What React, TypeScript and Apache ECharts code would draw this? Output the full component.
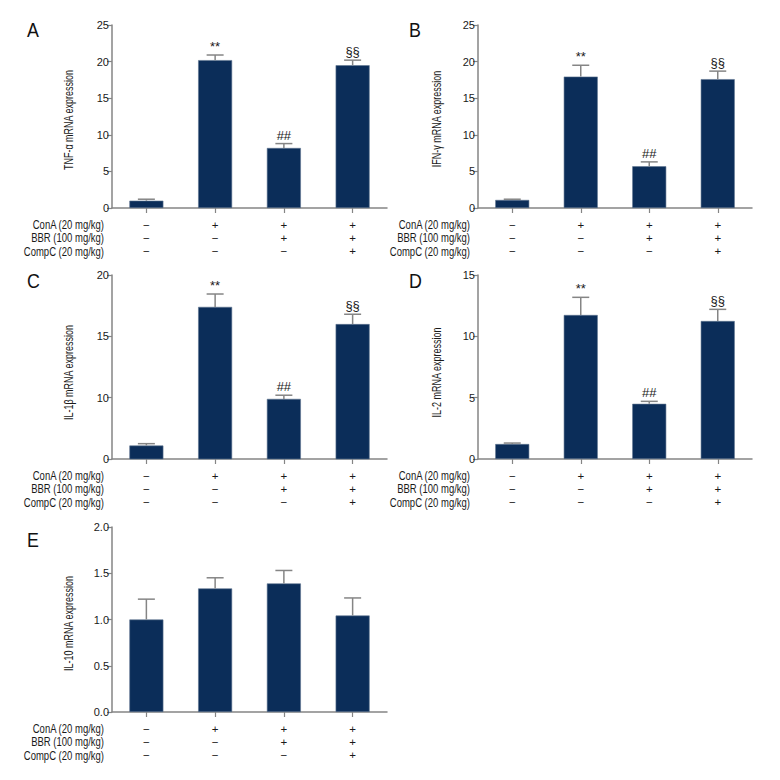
import React, { useEffect, useRef } from "react";
import * as echarts from "echarts";

const groups = ["G1", "G2", "G3", "G4"];
const conA = ["−", "+", "+", "+"];
const bbr = ["−", "−", "+", "+"];
const compC = ["−", "−", "−", "+"];
const rowNames = ["ConA (20 mg/kg)", "BBR (100 mg/kg)", "CompC (20 mg/kg)"];
const sigMarks = ["", "**", "##", "§§"];
const noMarks = ["", "", "", ""];

const tnfMean = [1.0, 20.2, 8.2, 19.5];
const tnfSem = [0.2, 0.7, 0.6, 0.7];
const ifnMean = [1.1, 17.95, 5.7, 17.6];
const ifnSem = [0.1, 1.55, 0.6, 1.1];
// IL-1β panel: axis labelled 0,10,15,20 at equal spacing (bottom tick labelled "0" sits at 5)
const il1Mean = [6.1, 17.4, 9.9, 16.0];
const il1Sem = [0.15, 1.05, 0.3, 0.8];
const il2Mean = [1.22, 11.74, 4.5, 11.25];
const il2Sem = [0.08, 1.44, 0.2, 0.95];
const il10Mean = [1.0, 1.336, 1.39, 1.043];
const il10Sem = [0.22, 0.115, 0.14, 0.19];

const FONT = '"Liberation Sans", Arial, sans-serif';
const AXIS = "#858585";
const BAR = "#0b2d59";
const TXT = "#1a1a1a";

const panels = [
  { letter: "A", title: "TNF-α mRNA expression", mean: tnfMean, sem: tnfSem, marks: sigMarks, min: 0, max: 25, interval: 5, dec: 0,
    grid: { left: 112, top: 25, width: 275, height: 183 }, titleX: 68, titleY: 120, letterPos: [27, 19] },
  { letter: "B", title: "IFN-γ mRNA expression", mean: ifnMean, sem: ifnSem, marks: sigMarks, min: 0, max: 25, interval: 5, dec: 0,
    grid: { left: 478, top: 25, width: 274, height: 183 }, titleX: 436.5, titleY: 119, letterPos: [409, 19] },
  { letter: "C", title: "IL-1β mRNA expression", mean: il1Mean, sem: il1Sem, marks: sigMarks, min: 5, max: 20, interval: 5, dec: 0,
    grid: { left: 112, top: 275, width: 275, height: 184 }, titleX: 68, titleY: 372.5, letterPos: [27, 270], zeroAt: 5 },
  { letter: "D", title: "IL-2 mRNA expression", mean: il2Mean, sem: il2Sem, marks: sigMarks, min: 0, max: 15, interval: 5, dec: 0,
    grid: { left: 478, top: 275, width: 274, height: 184 }, titleX: 436.5, titleY: 372.5, letterPos: [409, 270] },
  { letter: "E", title: "IL-10 mRNA expression", mean: il10Mean, sem: il10Sem, marks: noMarks, min: 0, max: 2, interval: 0.5, dec: 1,
    grid: { left: 112, top: 527, width: 275, height: 185 }, titleX: 68, titleY: 623.5, letterPos: [27, 529] },
];

export default function App() {
  const ref = useRef<HTMLDivElement>(null);
  useEffect(() => {
    if (!ref.current) return;
    const chart = echarts.init(ref.current, null, { renderer: "svg" });
    const grid: any[] = [];
    const xAxis: any[] = [];
    const yAxis: any[] = [];
    const series: any[] = [];
    const graphic: any[] = [];

    panels.forEach((p, i) => {
      grid.push({ ...p.grid, containLabel: false });
      xAxis.push({
        type: "category",
        gridIndex: i,
        data: groups,
        axisLine: { lineStyle: { color: AXIS, width: 1.5 } },
        axisTick: { show: true, alignWithLabel: true, length: 5, lineStyle: { color: AXIS, width: 1.2 } },
        axisLabel: {
          margin: 10,
          fontFamily: FONT,
          fontSize: 11.5,
          lineHeight: 13.2,
          color: TXT,
          formatter: (_v: string, idx: number) => `${conA[idx]}\n${bbr[idx]}\n${compC[idx]}`,
        },
      });
      yAxis.push({
        type: "value",
        gridIndex: i,
        min: p.min,
        max: p.max,
        interval: p.interval,
        splitLine: { show: false },
        axisLine: { show: true, lineStyle: { color: AXIS, width: 1.5 } },
        axisTick: { show: true, length: 5, lineStyle: { color: AXIS, width: 1.2 } },
        axisLabel: {
          margin: 3,
          fontFamily: FONT,
          fontSize: 11,
          color: TXT,
          formatter: (v: number) => {
            if ((p as any).zeroAt !== undefined && v === (p as any).zeroAt) return "0";
            return v.toFixed(p.dec);
          },
        },
      });
      series.push({
        type: "bar",
        xAxisIndex: i,
        yAxisIndex: i,
        data: p.mean,
        barWidth: 34,
        clip: true,
        itemStyle: { color: BAR, borderColor: "#5f7590", borderWidth: 0.6 },
        z: 2,
      });
      const marks = p.marks;
      series.push({
        type: "custom",
        xAxisIndex: i,
        yAxisIndex: i,
        z: 3,
        clip: false,
        data: p.mean.map((m, k) => [k, m, m + p.sem[k]]),
        renderItem: (params: any, api: any) => {
          const x = api.value(0);
          const p0 = api.coord([x, api.value(1)]);
          const p1 = api.coord([x, api.value(2)]);
          const cap = 8.5;
          const st = { stroke: AXIS, lineWidth: 1.5 };
          const children: any[] = [
            { type: "line", shape: { x1: p0[0], y1: p0[1], x2: p1[0], y2: p1[1] }, style: st },
            { type: "line", shape: { x1: p1[0] - cap, y1: p1[1], x2: p1[0] + cap, y2: p1[1] }, style: st },
          ];
          const t = marks[params.dataIndex];
          if (t) {
            children.push({
              type: "text",
              x: p1[0],
              y: p1[1] - 2,
              style: {
                text: t,
                align: "center",
                verticalAlign: "bottom",
                textAlign: "center",
                textVerticalAlign: "bottom",
                fontFamily: FONT,
                fontSize: 13,
                fill: TXT,
              },
            });
          }
          return { type: "group", children };
        },
      });

      // panel letter
      graphic.push({
        type: "text",
        left: p.letterPos[0],
        top: p.letterPos[1],
        scaleX: 0.85,
        style: { text: p.letter, fontFamily: FONT, fontSize: 21, fill: "#111" },
      });
      // y-axis title (condensed)
      graphic.push({
        type: "text",
        x: p.titleX,
        y: p.titleY,
        rotation: Math.PI / 2,
        scaleX: 0.72,
        style: {
          text: p.title,
          align: "center",
          verticalAlign: "middle",
          textAlign: "center",
          textVerticalAlign: "middle",
          fontFamily: FONT,
          fontSize: 12.5,
          fill: TXT,
        },
      });
      // row labels
      const axisY = p.grid.top + p.grid.height;
      rowNames.forEach((r, k) => {
        graphic.push({
          type: "text",
          x: p.grid.left - 8,
          y: axisY + 16.7 + k * 13.2,
          scaleX: 0.76,
          style: {
            text: r,
            align: "right",
            verticalAlign: "middle",
            textAlign: "right",
            textVerticalAlign: "middle",
            fontFamily: FONT,
            fontSize: 12.5,
            fill: TXT,
          },
        });
      });
    });

    chart.setOption({
      animation: false,
      backgroundColor: "#ffffff",
      grid,
      xAxis,
      yAxis,
      series,
      graphic,
    });
    return () => chart.dispose();
  }, []);
  return (
    <div
      ref={ref}
      style={{ position: "absolute", left: 0, top: 0, width: 780, height: 780 }}
    />
  );
}
